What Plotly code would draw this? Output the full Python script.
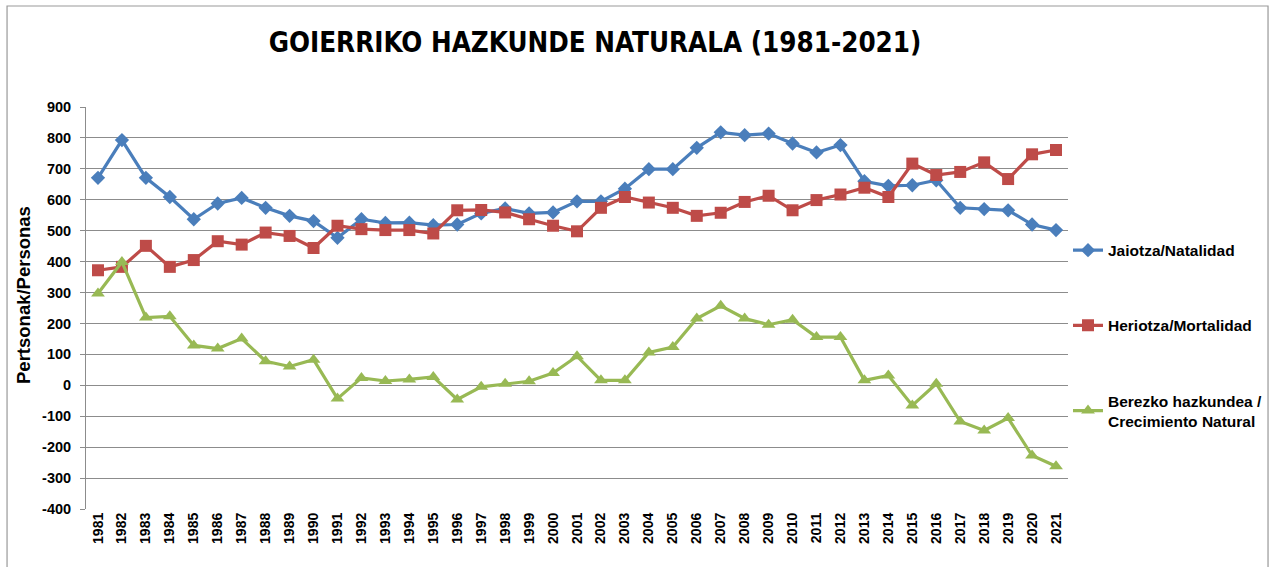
import plotly.graph_objects as go

years = list(range(1981, 2022))
natalidad = [671, 793, 671, 609, 537, 588, 606, 574, 548, 531,
             477, 537, 525, 526, 518, 520, 556, 572, 556, 559,
             595, 595, 636, 699, 699, 768, 818, 809, 814, 782,
             753, 777, 660, 645, 647, 663, 574, 570, 566, 520, 502]
mortalidad = [372, 383, 451, 383, 405, 466, 455, 494, 483, 444,
              516, 505, 502, 502, 491, 566, 567, 559, 537, 516,
              498, 574, 609, 591, 574, 548, 558, 593, 613, 566,
              599, 617, 639, 609, 717, 680, 690, 721, 667, 747, 761]
crecimiento = [297, 399, 219, 223, 129, 119, 151, 78, 61, 83,
               -43, 24, 14, 19, 27, -46, -5, 5, 13, 40,
               94, 16, 16, 106, 124, 216, 257, 216, 196, 212,
               156, 156, 16, 32, -65, 5, -117, -146, -106, -227, -262]
y_ticks = [-400, -300, -200, -100, 0, 100, 200, 300, 400, 500, 600, 700, 800, 900]
y_ticktext = ["-400", "-300", "-200", "-100", "0", "100", "200", "300",
              "400", "500", "600", "700", "800", "900"]

names = ["Jaiotza/Natalidad", "Heriotza/Mortalidad",
         "Berezko hazkundea /<br>Crecimiento Natural"]
colors = ["#4A7EBB", "#BE4B48", "#98B954"]
symbols = ["diamond", "square", "triangle-up"]
sizes = [11, 12, 12]

FONT = "Liberation Sans, Arial, sans-serif"

fig = go.Figure()
for i, (nm, vals) in enumerate(zip(names, [natalidad, mortalidad, crecimiento])):
    fig.add_trace(go.Scatter(
        x=years, y=vals, name=nm, mode="lines+markers",
        legendgroup=str(i),
        line=dict(color=colors[i], width=3.2),
        marker=dict(symbol=symbols[i], size=sizes[i], color=colors[i]),
    ))

fig.update_layout(
    width=1272, height=567,
    margin=dict(l=86, r=204, t=107, b=58, autoexpand=False),
    paper_bgcolor="white", plot_bgcolor="white",
    font=dict(family=FONT, color="black"),
    title=dict(text="<b>GOIERRIKO HAZKUNDE NATURALA (1981-2021)</b>",
               x=595 / 1272, xanchor="center", y=1 - 42 / 567, yanchor="middle",
               font=dict(family="DejaVu Sans Condensed, Liberation Sans, sans-serif",
                         size=27.5, color="black")),
    legend=dict(x=1.0, xanchor="left", y=0.685, yanchor="top",
                font=dict(size=15.5, family=FONT, color="black", weight="bold"),
                tracegroupgap=52, itemwidth=30, bgcolor="rgba(0,0,0,0)"),
    showlegend=True,
    shapes=[dict(type="rect", xref="paper", yref="paper",
                 x0=-0.0804, x1=1.2037, y0=-0.2, y1=1.2512,
                 line=dict(color="#999999", width=1.2), layer="below")],
    annotations=[dict(text="<b>Pertsonak/Personas</b>", textangle=-90,
                      xref="paper", yref="paper", x=(23 - 86) / 982, y=(509 - 295) / 402,
                      xanchor="center", yanchor="middle", showarrow=False,
                      font=dict(size=18.5, family=FONT, color="black"))],
)

fig.update_xaxes(
    range=[1980.5, 2021.5], tickmode="array", tickvals=years,
    ticktext=[str(y) for y in years], tickangle=-90,
    tickfont=dict(size=14, family=FONT, weight="bold"),
    showgrid=False, showline=False, zeroline=False, ticks="", automargin=False,
)
fig.update_yaxes(
    range=[-400, 900], tickmode="array", tickvals=y_ticks, ticktext=y_ticktext,
    tickfont=dict(size=14.5, family=FONT, weight="bold"),
    showgrid=True, gridcolor="#8c8c8c", gridwidth=1,
    showline=True, linecolor="#8c8c8c", linewidth=1,
    ticks="outside", ticklen=5, tickcolor="#8c8c8c", ticklabelstandoff=6,
    zeroline=False, automargin=False,
)

fig.write_html("out.html", config={"displayModeBar": False},
               post_script="document.body.style.margin='0';")
